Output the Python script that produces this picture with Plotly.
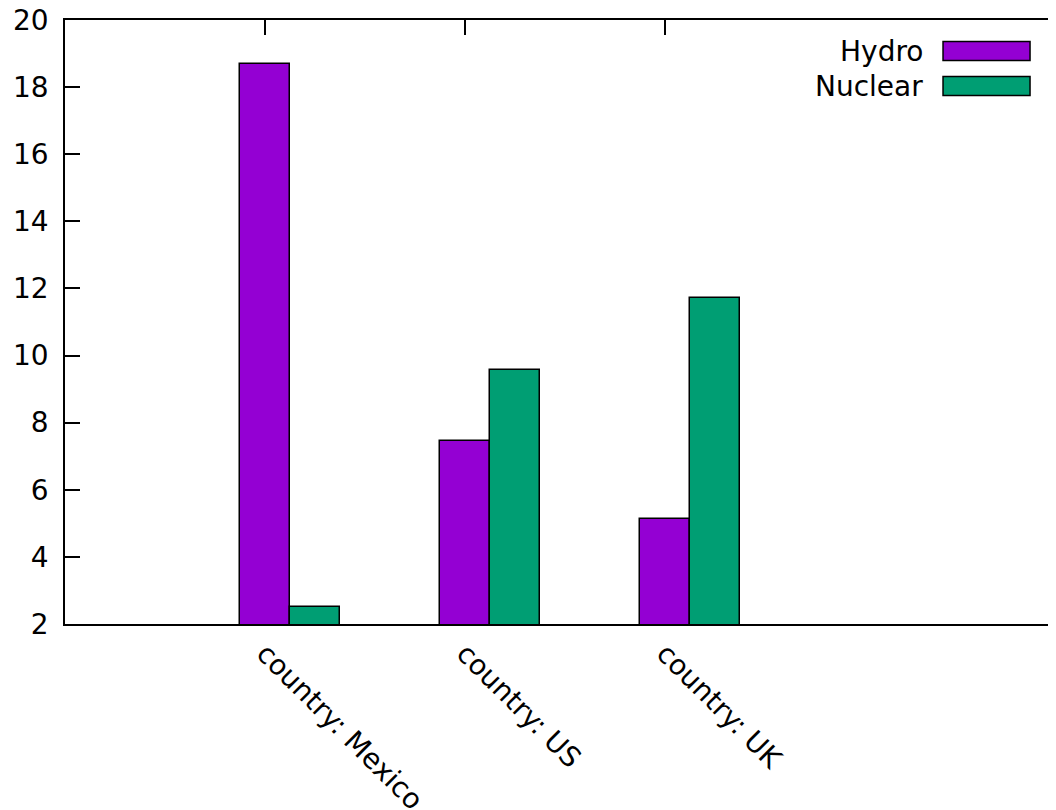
import plotly.graph_objects as go

countries = ["country: Mexico", "country: US", "country: UK"]
series_names = ["Hydro", "Nuclear"]
hydro = [18.7, 7.45, 5.12]
nuclear = [2.5, 9.58, 11.73]
series_values = [hydro, nuclear]
colors = ["#9400D3", "#009E73"]
y_ticks = [2, 4, 6, 8, 10, 12, 14, 16, 18, 20]

FONT = "DejaVu Sans"
FS = 28
bar_w = 0.25

fig = go.Figure()
for i, (name, vals) in enumerate(zip(series_names, series_values)):
    fig.add_trace(go.Bar(
        x=[k + i * bar_w for k in range(len(countries))],
        y=vals,
        width=bar_w,
        name=name,
        marker=dict(color=colors[i], line=dict(color="black", width=1.5)),
        showlegend=False,
    ))

# dummy trace so the right-hand mirrored ticks get their own axis
fig.add_trace(go.Scatter(x=[None], y=[None], yaxis="y2", showlegend=False))

# gnuplot-style legend: text on the left, colour box on the right
for i, name in enumerate(series_names):
    y_top = 0.9644 - i * 0.0580
    y_bot = y_top - 0.0315
    fig.add_shape(type="rect", xref="paper", yref="paper",
                  x0=0.886, x1=0.9738, y0=y_bot, y1=y_top,
                  fillcolor=colors[i], line=dict(color="black", width=1.5))
    fig.add_annotation(xref="paper", yref="paper", x=0.868, y=(y_top + y_bot) / 2,
                       text=name, showarrow=False, xanchor="right", yanchor="middle",
                       font=dict(family=FONT, size=FS, color="black"))

# the page body has an 8px margin, so the figure is sized to end at the window edge
fig.update_layout(
    width=1048, height=802,
    margin=dict(l=57, r=0, t=12, b=186),
    plot_bgcolor="white", paper_bgcolor="white",
    bargap=0,
    font=dict(family=FONT, size=FS, color="black"),
    xaxis=dict(
        range=[-1, 3.955],
        tickvals=list(range(len(countries))),
        ticktext=countries,
        tickangle=45,
        ticks="inside", ticklen=15, tickwidth=1.5, tickcolor="black",
        showline=True, linecolor="black", linewidth=1.5, mirror="ticks",
        showgrid=False, zeroline=False,
        layer="below traces",
        ticklabelstandoff=0,
        automargin=False,
    ),
    yaxis=dict(
        range=[2, 20],
        tickvals=y_ticks,
        ticks="inside", ticklen=15, tickwidth=1.5, tickcolor="black",
        showline=True, linecolor="black", linewidth=1.5,
        showgrid=False, zeroline=False,
        ticklabelstandoff=9,
        ticklabeloverflow="allow",
        automargin=False,
    ),
    yaxis2=dict(
        range=[2, 20], overlaying="y", side="right",
        tickvals=y_ticks, showticklabels=False,
        ticks="inside", ticklen=6, tickwidth=1.5, tickcolor="black",
        showline=False, showgrid=False, zeroline=False,
        automargin=False,
    ),
)

fig.write_html("out.html")
